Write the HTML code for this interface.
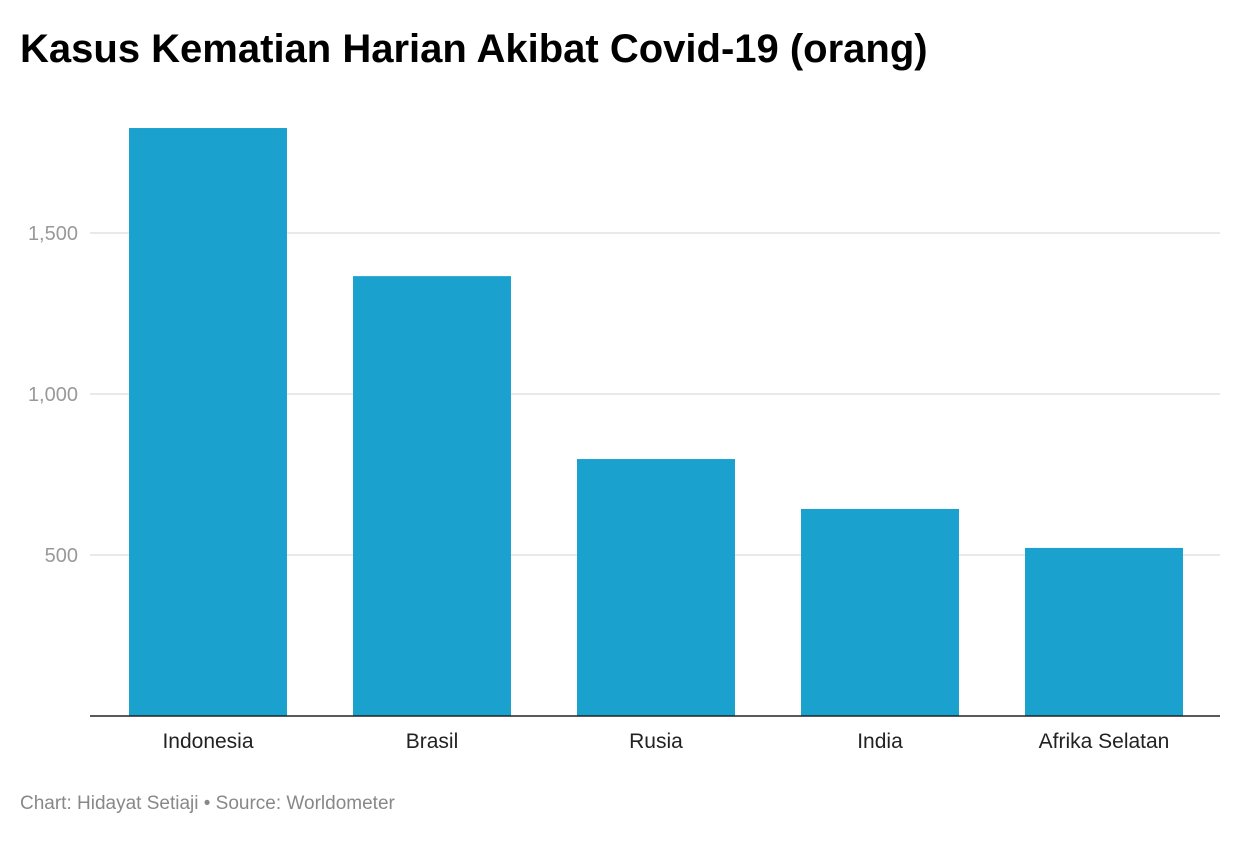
<!DOCTYPE html>
<html><head><meta charset="utf-8"><style>
body{margin:0;background:#fff;font-family:"Liberation Sans",sans-serif;}
</style></head><body>
<svg width="1240" height="840" xmlns="http://www.w3.org/2000/svg">
<text x="20" y="62" font-size="40" font-weight="bold" fill="#000">Kasus Kematian Harian Akibat Covid-19 (orang)</text>
<g id="grid"></g><g id="bars"></g><g id="xlabels"></g>
<line x1="90" x2="1220" y1="716" y2="716" stroke="#222" stroke-width="1.5"/>
<text x="20" y="809" font-size="19" fill="#888">Chart: Hidayat Setiaji • Source: Worldometer</text>
</svg>
<script>
const categories=["Indonesia","Brasil","Rusia","India","Afrika Selatan"];
const values=[1826,1366,798,643,522];
const ticks=[500,1000,1500];
const tickLabels=["500","1,000","1,500"];
const NS="http://www.w3.org/2000/svg";
const y=v=>716-v*0.322;
const step=224,x0=96,bw=158;
const grid=document.getElementById('grid');
ticks.forEach((t,i)=>{
 const l=document.createElementNS(NS,'line');
 l.setAttribute('x1',90);l.setAttribute('x2',1220);l.setAttribute('y1',y(t));l.setAttribute('y2',y(t));
 l.setAttribute('stroke','#e2e2e2');l.setAttribute('stroke-width','1.5');
 
 
 grid.appendChild(l);
 const tx=document.createElementNS(NS,'text');
 tx.setAttribute('x',78);tx.setAttribute('y',y(t)+7);tx.setAttribute('text-anchor','end');
 tx.setAttribute('font-size','20');tx.setAttribute('fill','#999');tx.textContent=tickLabels[i];
 
 
 grid.appendChild(tx);
});
const bars=document.getElementById('bars'),xl=document.getElementById('xlabels');
categories.forEach((c,i)=>{
 const cx=x0+step*i+step/2;
 const r=document.createElementNS(NS,'rect');
 r.setAttribute('x',cx-bw/2);r.setAttribute('width',bw);r.setAttribute('y',y(values[i]));r.setAttribute('height',716-y(values[i]));
 r.setAttribute('fill','#1aa1cd');
 
 
 bars.appendChild(r);
 const t=document.createElementNS(NS,'text');
 t.setAttribute('x',cx);t.setAttribute('y',748);t.setAttribute('text-anchor','middle');
 t.setAttribute('font-size','21');t.setAttribute('fill','#222');t.textContent=c;
 
 
 xl.appendChild(t);
});
</script>
</body></html>
